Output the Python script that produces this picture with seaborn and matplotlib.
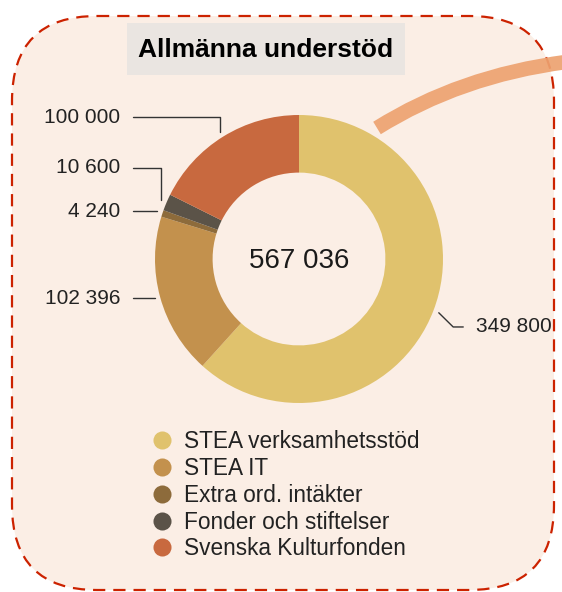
import numpy as np
import seaborn as sns
import matplotlib.pyplot as plt
from matplotlib.patches import FancyBboxPatch, Rectangle, PathPatch
from matplotlib.path import Path
from matplotlib.lines import Line2D

# data
categories = ["STEA verksamhetsstöd", "STEA IT", "Extra ord. intäkter",
              "Fonder och stiftelser", "Svenska Kulturfonden"]
values = [349800, 102396, 4240, 10600, 100000]
colors = ["#E0C26D", "#C3914D", "#8D6B3B", "#5B5348", "#C8693F"]
title = "Allmänna understöd"

# where the value labels sit (pie units, radius = 1)
label_y = [-0.472, -0.271, 0.333, 0.632, 0.986]


def fmt(v):
    return f"{v:,}".replace(",", " ")


sns.set_theme(style="white")
plt.rcParams["font.family"] = ["Liberation Sans", "DejaVu Sans"]

W, H = 562, 592
fig = plt.figure(figsize=(W / 100, H / 100), dpi=100, facecolor="white")

# background layer in pixel units
bg = fig.add_axes([0, 0, 1, 1])
bg.set_xlim(0, W)
bg.set_ylim(H, 0)
bg.axis("off")

frame = FancyBboxPatch((12, 16), 542, 574, boxstyle="round,pad=0,rounding_size=85",
                       fc="#FBEEE5", ec="#CC2200", lw=1.6, ls=(0, (5.5, 3.6)), zorder=1)
bg.add_patch(frame)

# connector arc towards the rest of the diagram
arc = Path([(377, 128), (460, 76), (566, 62)], [Path.MOVETO, Path.CURVE3, Path.CURVE3])
bg.add_patch(PathPatch(arc, fc="none", ec="#EDA270", lw=10.5, alpha=0.92,
                       capstyle="butt", zorder=3))

bg.add_patch(Rectangle((127, 23), 278, 52, fc="#EAE5E1", ec="none", zorder=2))
bg.text(266, 50, title, ha="center", va="center", fontsize=19,
        fontweight="bold", color="black", zorder=4)

# donut
ax = fig.add_axes([155 / W, (H - 403) / H, 288 / W, 288 / H])
wedges, _ = ax.pie(values, colors=colors, startangle=90, counterclock=False,
                   radius=1, wedgeprops=dict(width=0.4, linewidth=0))
ax.set_xlim(-1, 1)
ax.set_ylim(-1, 1)
ax.axis("off")

ax.text(0, -0.012, fmt(sum(values)), ha="center", va="center", fontsize=20, color="#1a1a1a")

for w, v, ly in zip(wedges, values, label_y):
    th = np.deg2rad((w.theta1 + w.theta2) / 2)
    px, py = 1.04 * np.cos(th), 1.04 * np.sin(th)
    if px > 0:
        xs = [px, px + 0.10, px + 0.17]
        ys = [py, ly, ly]
        ax.text(px + 0.26, ly, fmt(v), ha="left", va="center", fontsize=15, color="#222222")
    else:
        if abs(ly - py) > 0.03:
            xs = [-1.155, px, px]
            ys = [ly, ly, py]
        else:
            xs = [-1.155, px]
            ys = [ly, ly]
        ax.text(-1.243, ly, fmt(v), ha="right", va="center", fontsize=15, color="#222222")
    ax.plot(xs, ys, color="#333333", lw=1, clip_on=False)

handles = [Line2D([], [], marker="o", ls="", ms=13, mfc=c, mec="none") for c in colors]
leg = fig.legend(handles, categories, loc="upper left",
                 bbox_to_anchor=(151 / W, 1 - 430 / H), frameon=False, fontsize=16.3,
                 handletextpad=0.45, labelspacing=0.17, borderpad=0, borderaxespad=0,
                 handlelength=1.0)
for t in leg.get_texts():
    t.set_color("#222222")

fig.savefig("out.png", dpi=100)
